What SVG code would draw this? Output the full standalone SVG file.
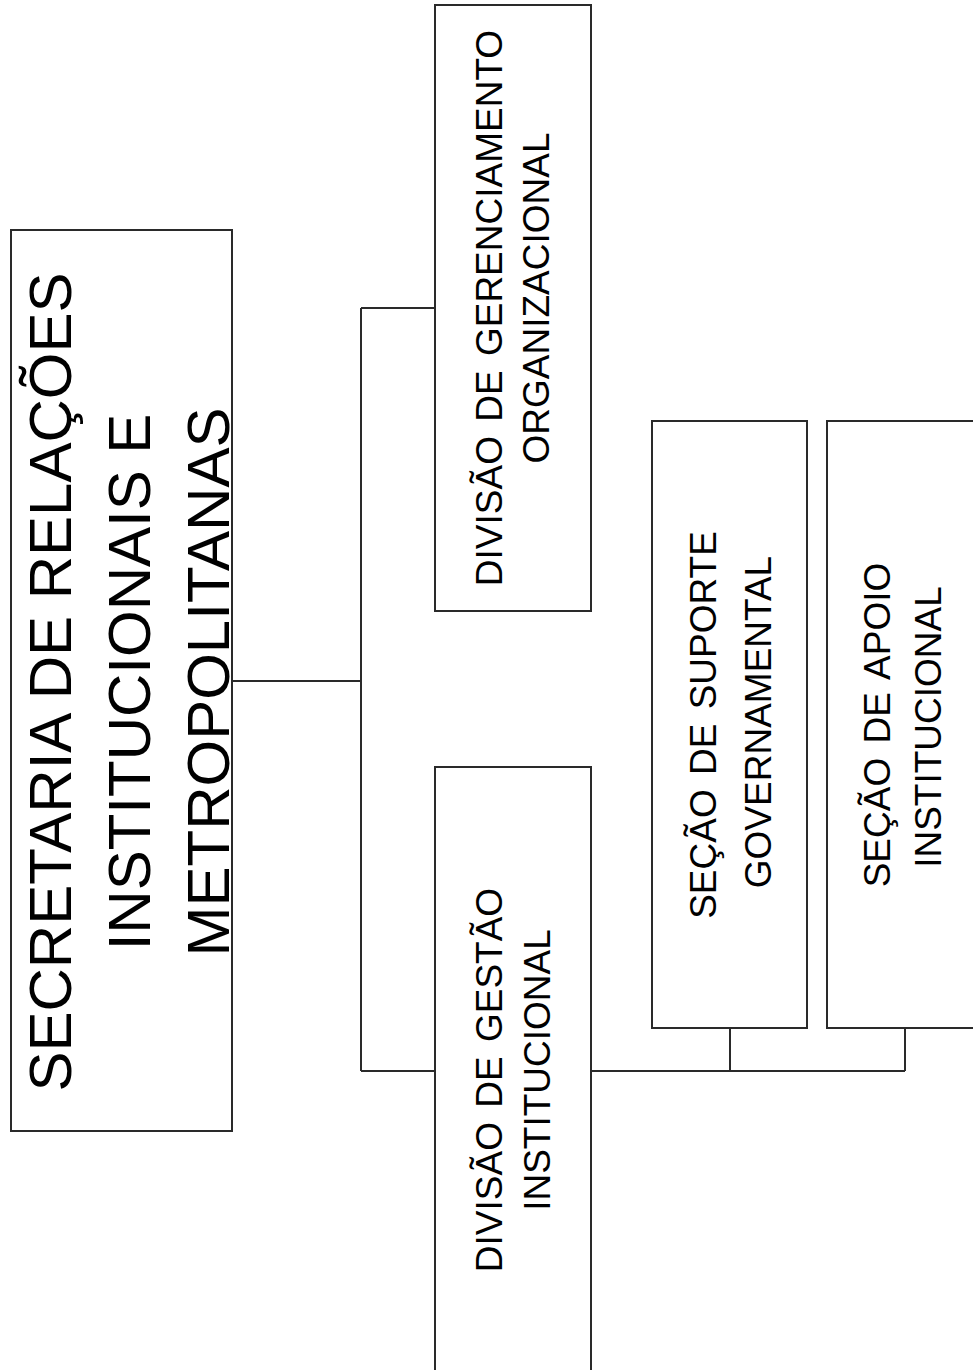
<svg xmlns="http://www.w3.org/2000/svg" width="973" height="1370" viewBox="0 0 973 1370">
<style>
.box{fill:#fff;stroke:#2a2a2a;stroke-width:2}
.ln{fill:none;stroke:#2a2a2a;stroke-width:2}
text{font-family:"Liberation Sans",Arial,sans-serif;fill:#000;text-anchor:middle}
.big{font-size:60px}
.mid{font-size:37px;word-spacing:4px}
</style>
<rect width="973" height="1370" fill="#fff"/>
<g id="connectors">
<path class="ln" d="M232,681 H361 M361,308 V1071 M361,308 H435 M361,1071 H435 M591,1071 H905 M730,1028 V1071 M905,1028 V1071"/>
</g>
<g id="secretaria">
<rect class="box" x="11" y="230" width="221" height="901"/>
<text class="big" transform="translate(71,682) rotate(-90)"><tspan x="0" y="0">SECRETARIA DE RELAÇÕES</tspan><tspan x="0" y="79">INSTITUCIONAIS E</tspan><tspan x="0" y="158">METROPOLITANAS</tspan></text>
</g>
<g id="div-gerenciamento">
<rect class="box" x="435" y="5" width="156" height="606"/>
<text class="mid" transform="translate(502,308) rotate(-90)"><tspan x="0" y="0">DIVISÃO DE GERENCIAMENTO</tspan><tspan x="10" y="47">ORGANIZACIONAL</tspan></text>
</g>
<g id="div-gestao">
<rect class="box" x="435" y="767" width="156" height="606"/>
<text class="mid" transform="translate(502,1070) rotate(-90)"><tspan x="-10" y="0">DIVISÃO DE GESTÃO</tspan><tspan x="0" y="48">INSTITUCIONAL</tspan></text>
</g>
<g id="secao-suporte">
<rect class="box" x="652" y="421" width="155" height="607"/>
<text class="mid" transform="translate(716,725) rotate(-90)"><tspan x="0" y="0">SEÇÃO DE SUPORTE</tspan><tspan x="3" y="55">GOVERNAMENTAL</tspan></text>
</g>
<g id="secao-apoio">
<rect class="box" x="827" y="421" width="156" height="607"/>
<text class="mid" transform="translate(890,725) rotate(-90)"><tspan x="0" y="0">SEÇÃO DE APOIO</tspan><tspan x="-2" y="51">INSTITUCIONAL</tspan></text>
</g>
</svg>
